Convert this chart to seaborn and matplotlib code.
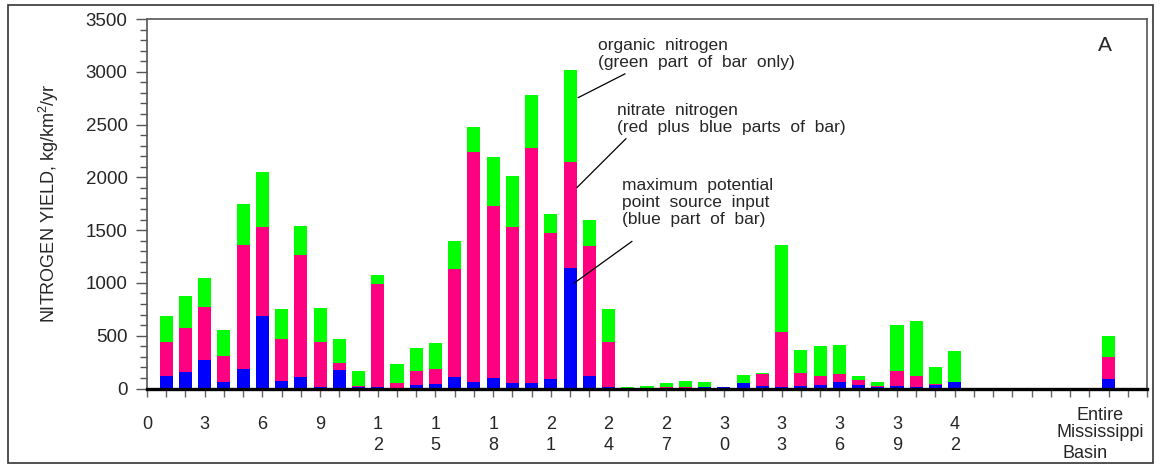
import matplotlib
matplotlib.use("Agg")
import matplotlib.pyplot as plt
import seaborn as sns
import pandas as pd
from matplotlib.patches import Rectangle

# Dati: resa di azoto per bacino (kg/km2/anno)
siti = list(range(1, 43)) + [50]

# Altezza totale della barra (parte verde = azoto organico)
azoto_totale = [685, 874, 1044, 553, 1744, 2055, 751, 1536, 761, 468,
                165, 1073, 231, 381, 430, 1394, 2481, 2197, 2017, 2783,
                1649, 3020, 1592, 751, 14, 27, 55, 74, 64, 17,
                128, 146, 1356, 364, 402, 411, 118, 61, 600, 638,
                203, 354, 496]

# Azoto nitrico (rosso + blu)
azoto_nitrico = [442, 575, 770, 310, 1356, 1526, 468, 1262, 442, 241,
                 27, 991, 52, 165, 184, 1129, 2238, 1725, 1526, 2282,
                 1470, 2150, 1347, 442, 6, 8, 14, 14, 14, 17,
                 55, 137, 534, 146, 118, 137, 80, 20, 165, 118,
                 42, 61, 298]

# Massimo apporto potenziale da fonti puntuali (blu)
fonti_puntuali = [118, 156, 269, 61, 184, 685, 71, 109, 14, 175,
                  14, 14, 8, 33, 42, 109, 61, 99, 52, 52,
                  90, 1142, 118, 14, 4, 3, 5, 8, 10, 17,
                  50, 24, 14, 24, 33, 61, 33, 14, 24, 14,
                  33, 61, 90]

df = pd.DataFrame({
    "sito": siti,
    "totale": azoto_totale,
    "nitrico": azoto_nitrico,
    "puntuali": fonti_puntuali,
})

sns.set_style("ticks")
plt.rcParams["font.family"] = ["Liberation Sans", "DejaVu Sans"]
plt.rcParams["mathtext.fontset"] = "custom"
plt.rcParams["mathtext.rm"] = "Liberation Sans"
plt.rcParams["mathtext.it"] = "Liberation Sans"

# Figura
fig = plt.figure(figsize=(11.6, 4.66), dpi=100)
ax = fig.add_axes([0.1267, 0.1663, 0.8621, 0.7929])

# Barre sovrapposte: verde, rosso, blu
for col, colore in [("totale", "#00ff00"), ("nitrico", "#ff0080"), ("puntuali", "#0000ff")]:
    sns.barplot(data=df, x="sito", y=col, native_scale=True, width=0.68,
                color=colore, saturation=1, errorbar=None, linewidth=0,
                ax=ax)

# Assi
ax.set_xlim(0, 52)
ax.set_ylim(0, 3500)
ax.set_xlabel("")
ax.set_ylabel("NITROGEN YIELD, kg/km$^2$/yr", fontsize=13, labelpad=18)

# Tick asse X: numeri scritti in verticale
etichette = []
for n in range(0, 53):
    if n % 3 == 0 and n <= 42:
        etichette.append("\n".join(str(n)))
    else:
        etichette.append("")
ax.set_xticks(range(0, 53))
ax.set_xticklabels(etichette, fontsize=13, va="top", linespacing=1.25)
ax.tick_params(axis="x", length=6, width=1, color="#666666", pad=14)

# Tick asse Y
ax.set_yticks(range(0, 3501, 500))
ax.set_yticks(range(0, 3501, 100), minor=True)
ax.tick_params(axis="y", which="major", length=8, width=1, color="#555555",
               labelsize=13.5, pad=6)
ax.tick_params(axis="y", which="minor", length=5, width=1, color="#555555")

# Bordi
for lato in ["top", "right", "left"]:
    ax.spines[lato].set_visible(True)
    ax.spines[lato].set_color("#555555")
    ax.spines[lato].set_linewidth(1.2)
ax.spines["bottom"].set_color("black")
ax.spines["bottom"].set_linewidth(2.4)

# Etichetta bacino intero
tr = ax.get_xaxis_transform()
ax.text(49.56, -0.074, "Entire", transform=tr, ha="center", va="center", fontsize=13)
ax.text(49.56, -0.120, "Mississippi", transform=tr, ha="center", va="center", fontsize=13)
ax.text(48.78, -0.175, "Basin", transform=tr, ha="center", va="center", fontsize=13)

# Annotazioni
ax.text(23.45, 3170, "organic  nitrogen\n(green  part  of  bar  only)",
        ha="left", va="center", fontsize=12.5, linespacing=1.15)
ax.text(24.44, 2556, "nitrate  nitrogen\n(red  plus  blue  parts  of  bar)",
        ha="left", va="center", fontsize=12.5, linespacing=1.15)
ax.text(24.70, 1762, "maximum  potential\npoint  source  input\n(blue  part  of  bar)",
        ha="left", va="center", fontsize=12.5, linespacing=1.15)

frecce = [((22.42, 2755), (24.86, 2981)),
          ((22.36, 1904), (24.91, 2367)),
          ((22.20, 997), (25.22, 1394))]
for punto, testo in frecce:
    ax.annotate("", xy=punto, xytext=testo,
                arrowprops=dict(arrowstyle="-", color="black", lw=0.9,
                                shrinkA=0, shrinkB=0))

# Lettera del pannello
ax.text(49.8, 3246, "A", ha="center", va="center", fontsize=15)

# Cornice esterna
fig.patches.append(Rectangle((0.0069, 0.0064), 0.9871, 0.9829,
                             transform=fig.transFigure, fill=False,
                             edgecolor="#333333", linewidth=1.2))

plt.savefig("out.png", dpi=100)
